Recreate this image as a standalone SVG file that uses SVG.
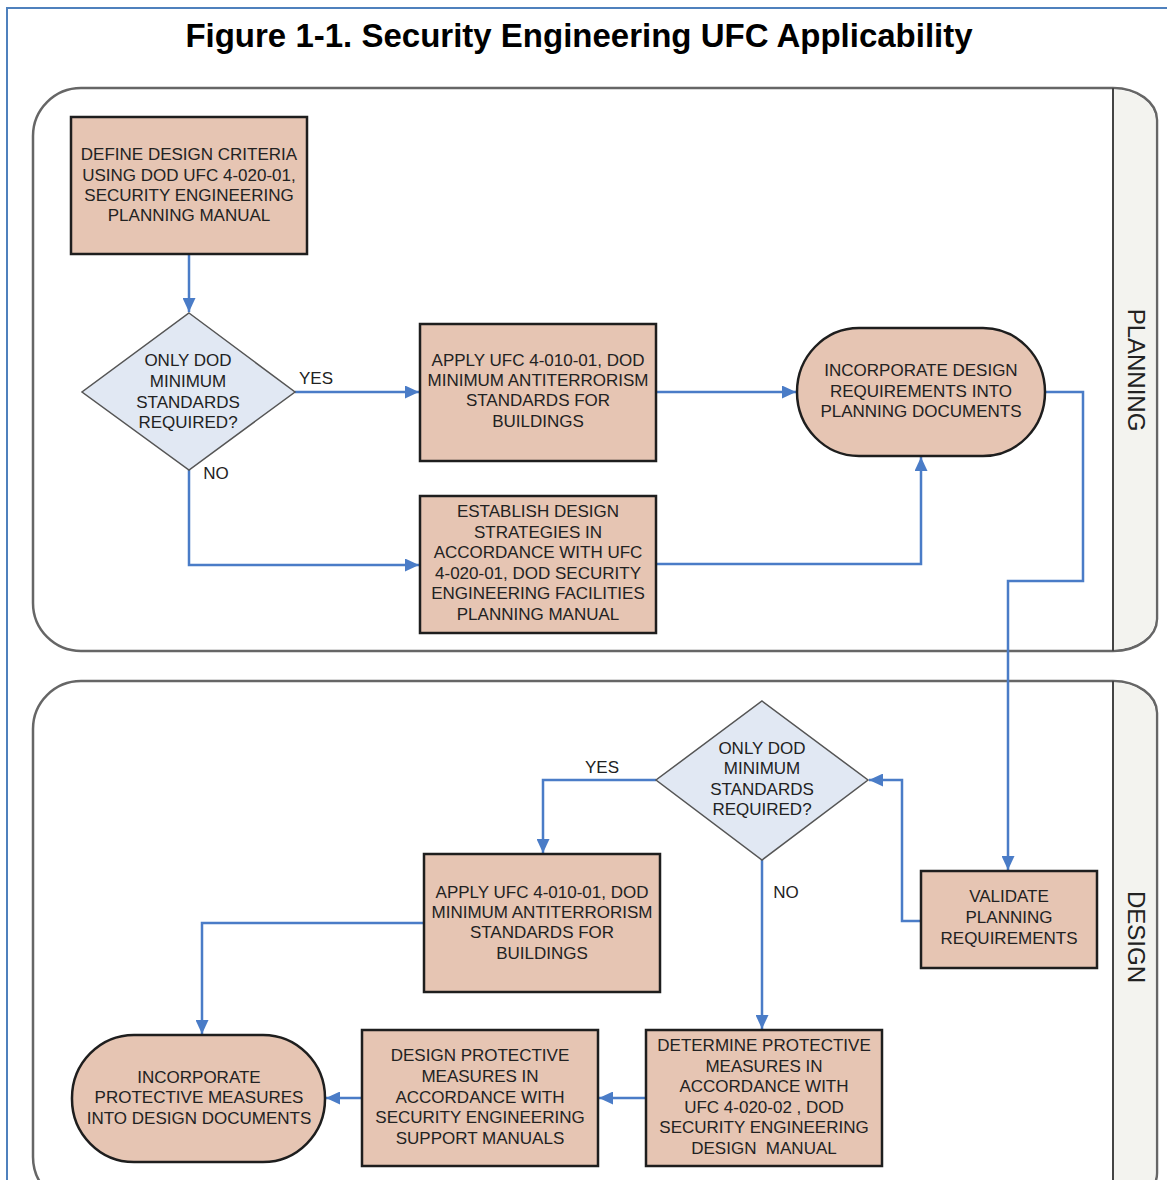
<svg xmlns="http://www.w3.org/2000/svg" width="1167" height="1180" viewBox="0 0 1167 1180">
<style>
.t{font-family:"Liberation Sans",Arial,sans-serif;font-size:17px;fill:#222;text-anchor:middle}
.lbl{font-family:"Liberation Sans",Arial,sans-serif;font-size:17px;fill:#222;text-anchor:middle}
.lane{fill:#fff;stroke:#666;stroke-width:2.5}
.hdr{fill:#f3f3ef;stroke:none}
.div{stroke:#444;stroke-width:2}
.lt{font-family:"Liberation Sans",Arial,sans-serif;font-size:24px;fill:#222;text-anchor:middle}
.box{fill:#e6c5b3;stroke:#1e1e1e;stroke-width:2.5}
.dia{fill:#e1e8f3;stroke:#555;stroke-width:1.5}
.con{fill:none;stroke:#4a7cc7;stroke-width:2.5;marker-end:url(#arr)}
</style>
<defs>
<marker id="arr" viewBox="0 0 14 13" refX="14" refY="6.5" markerWidth="14" markerHeight="13" markerUnits="userSpaceOnUse" orient="auto">
<path d="M0,0 L14,6.5 L0,13 z" fill="#4a7cc7"/>
</marker>
</defs>
<rect width="1167" height="1180" fill="#fff"/>
<path d="M7,1180 V8 H1167" fill="none" stroke="#4f81bd" stroke-width="2"/>
<text x="579" y="47" font-family="'Liberation Sans',Arial,sans-serif" font-size="33" font-weight="bold" text-anchor="middle" fill="#000">Figure 1-1. Security Engineering UFC Applicability</text>

<g id="lane-planning">
<path class="lane" d="M81,88 H1113 A44,32 0 0 1 1157,120 V619 A44,32 0 0 1 1113,651 H81 A48,48 0 0 1 33,603 V136 A48,48 0 0 1 81,88 Z"/>
<path class="hdr" d="M1114,89.5 A43,31 0 0 1 1155.5,120 V619 A43,31 0 0 1 1114,649.5 Z"/>
<line class="div" x1="1113" y1="88" x2="1113" y2="651"/>
<text class="lt" transform="translate(1128,370) rotate(90)">PLANNING</text>
</g>
<g id="lane-design">
<path class="lane" d="M81,681 H1113 A44,32 0 0 1 1157,713 V1173 A44,32 0 0 1 1113,1205 H81 A48,48 0 0 1 33,1157 V729 A48,48 0 0 1 81,681 Z"/>
<path class="hdr" d="M1114,682.5 A43,31 0 0 1 1155.5,713 V1173 A43,31 0 0 1 1114,1203.5 Z"/>
<line class="div" x1="1113" y1="681" x2="1113" y2="1205"/>
<text class="lt" transform="translate(1128,937) rotate(90)">DESIGN</text>
</g>

<g id="connectors">
<path class="con" d="M189,254 V312"/>
<path class="con" d="M295,392 H419"/>
<path class="con" d="M189,470 V565 H419"/>
<path class="con" d="M656,392 H796"/>
<path class="con" d="M656,564 H921 V457"/>
<path class="con" d="M1045,392 H1083 V581 H1008 V870"/>
<path class="con" d="M921,921 H902 V780 H869"/>
<path class="con" d="M656,780 H543 V853"/>
<path class="con" d="M762,860 V1029"/>
<path class="con" d="M424,923 H202 V1034"/>
<path class="con" d="M646,1098 H599"/>
<path class="con" d="M362,1098 H326"/>
<text class="lbl" x="316" y="384">YES</text>
<text class="lbl" x="216" y="479">NO</text>
<text class="lbl" x="602" y="773">YES</text>
<text class="lbl" x="786" y="898">NO</text>
</g>

<g id="define">
<rect class="box" x="71" y="117" width="236" height="137"/>
<text class="t" x="189" y="160">DEFINE DESIGN CRITERIA</text>
<text class="t" x="189" y="181">USING DOD UFC 4-020-01,</text>
<text class="t" x="189" y="201">SECURITY ENGINEERING</text>
<text class="t" x="189" y="221">PLANNING MANUAL</text>
</g>

<g id="decision1">
<polygon class="dia" points="189,313 295,392 189,470 82,392"/>
<text class="t" x="188" y="366">ONLY DOD</text>
<text class="t" x="188" y="387">MINIMUM</text>
<text class="t" x="188" y="408">STANDARDS</text>
<text class="t" x="188" y="428">REQUIRED?</text>
</g>

<g id="apply1">
<rect class="box" x="420" y="324" width="236" height="137"/>
<text class="t" x="538" y="366">APPLY UFC 4-010-01, DOD</text>
<text class="t" x="538" y="386">MINIMUM ANTITERRORISM</text>
<text class="t" x="538" y="406">STANDARDS FOR</text>
<text class="t" x="538" y="427">BUILDINGS</text>
</g>

<g id="establish">
<rect class="box" x="420" y="496" width="236" height="137"/>
<text class="t" x="538" y="517">ESTABLISH DESIGN</text>
<text class="t" x="538" y="538">STRATEGIES IN</text>
<text class="t" x="538" y="558">ACCORDANCE WITH UFC</text>
<text class="t" x="538" y="579">4-020-01, DOD SECURITY</text>
<text class="t" x="538" y="599">ENGINEERING FACILITIES</text>
<text class="t" x="538" y="620">PLANNING MANUAL</text>
</g>

<g id="incorporate-planning">
<rect class="box" x="797" y="328" width="248" height="128" rx="62" ry="64"/>
<text class="t" x="921" y="376">INCORPORATE DESIGN</text>
<text class="t" x="921" y="397">REQUIREMENTS INTO</text>
<text class="t" x="921" y="417">PLANNING DOCUMENTS</text>
</g>

<g id="decision2">
<polygon class="dia" points="762,701 868,780 762,860 656,780"/>
<text class="t" x="762" y="754">ONLY DOD</text>
<text class="t" x="762" y="774">MINIMUM</text>
<text class="t" x="762" y="795">STANDARDS</text>
<text class="t" x="762" y="815">REQUIRED?</text>
</g>

<g id="apply2">
<rect class="box" x="424" y="854" width="236" height="138"/>
<text class="t" x="542" y="898">APPLY UFC 4-010-01, DOD</text>
<text class="t" x="542" y="918">MINIMUM ANTITERRORISM</text>
<text class="t" x="542" y="938">STANDARDS FOR</text>
<text class="t" x="542" y="959">BUILDINGS</text>
</g>

<g id="validate">
<rect class="box" x="921" y="871" width="176" height="97"/>
<text class="t" x="1009" y="902">VALIDATE</text>
<text class="t" x="1009" y="923">PLANNING</text>
<text class="t" x="1009" y="944">REQUIREMENTS</text>
</g>

<g id="determine">
<rect class="box" x="646" y="1030" width="236" height="136"/>
<text class="t" x="764" y="1051">DETERMINE PROTECTIVE</text>
<text class="t" x="764" y="1072">MEASURES IN</text>
<text class="t" x="764" y="1092">ACCORDANCE WITH</text>
<text class="t" x="764" y="1113">UFC 4-020-02 , DOD</text>
<text class="t" x="764" y="1133">SECURITY ENGINEERING</text>
<text class="t" x="764" y="1154" style="white-space:pre">DESIGN  MANUAL</text>
</g>

<g id="design-protective">
<rect class="box" x="362" y="1030" width="236" height="136"/>
<text class="t" x="480" y="1061">DESIGN PROTECTIVE</text>
<text class="t" x="480" y="1082">MEASURES IN</text>
<text class="t" x="480" y="1103">ACCORDANCE WITH</text>
<text class="t" x="480" y="1123">SECURITY ENGINEERING</text>
<text class="t" x="480" y="1144">SUPPORT MANUALS</text>
</g>

<g id="incorporate-design">
<rect class="box" x="72" y="1035" width="253" height="127" rx="62" ry="63"/>
<text class="t" x="199" y="1083">INCORPORATE</text>
<text class="t" x="199" y="1103">PROTECTIVE MEASURES</text>
<text class="t" x="199" y="1124">INTO DESIGN DOCUMENTS</text>
</g>
</svg>
